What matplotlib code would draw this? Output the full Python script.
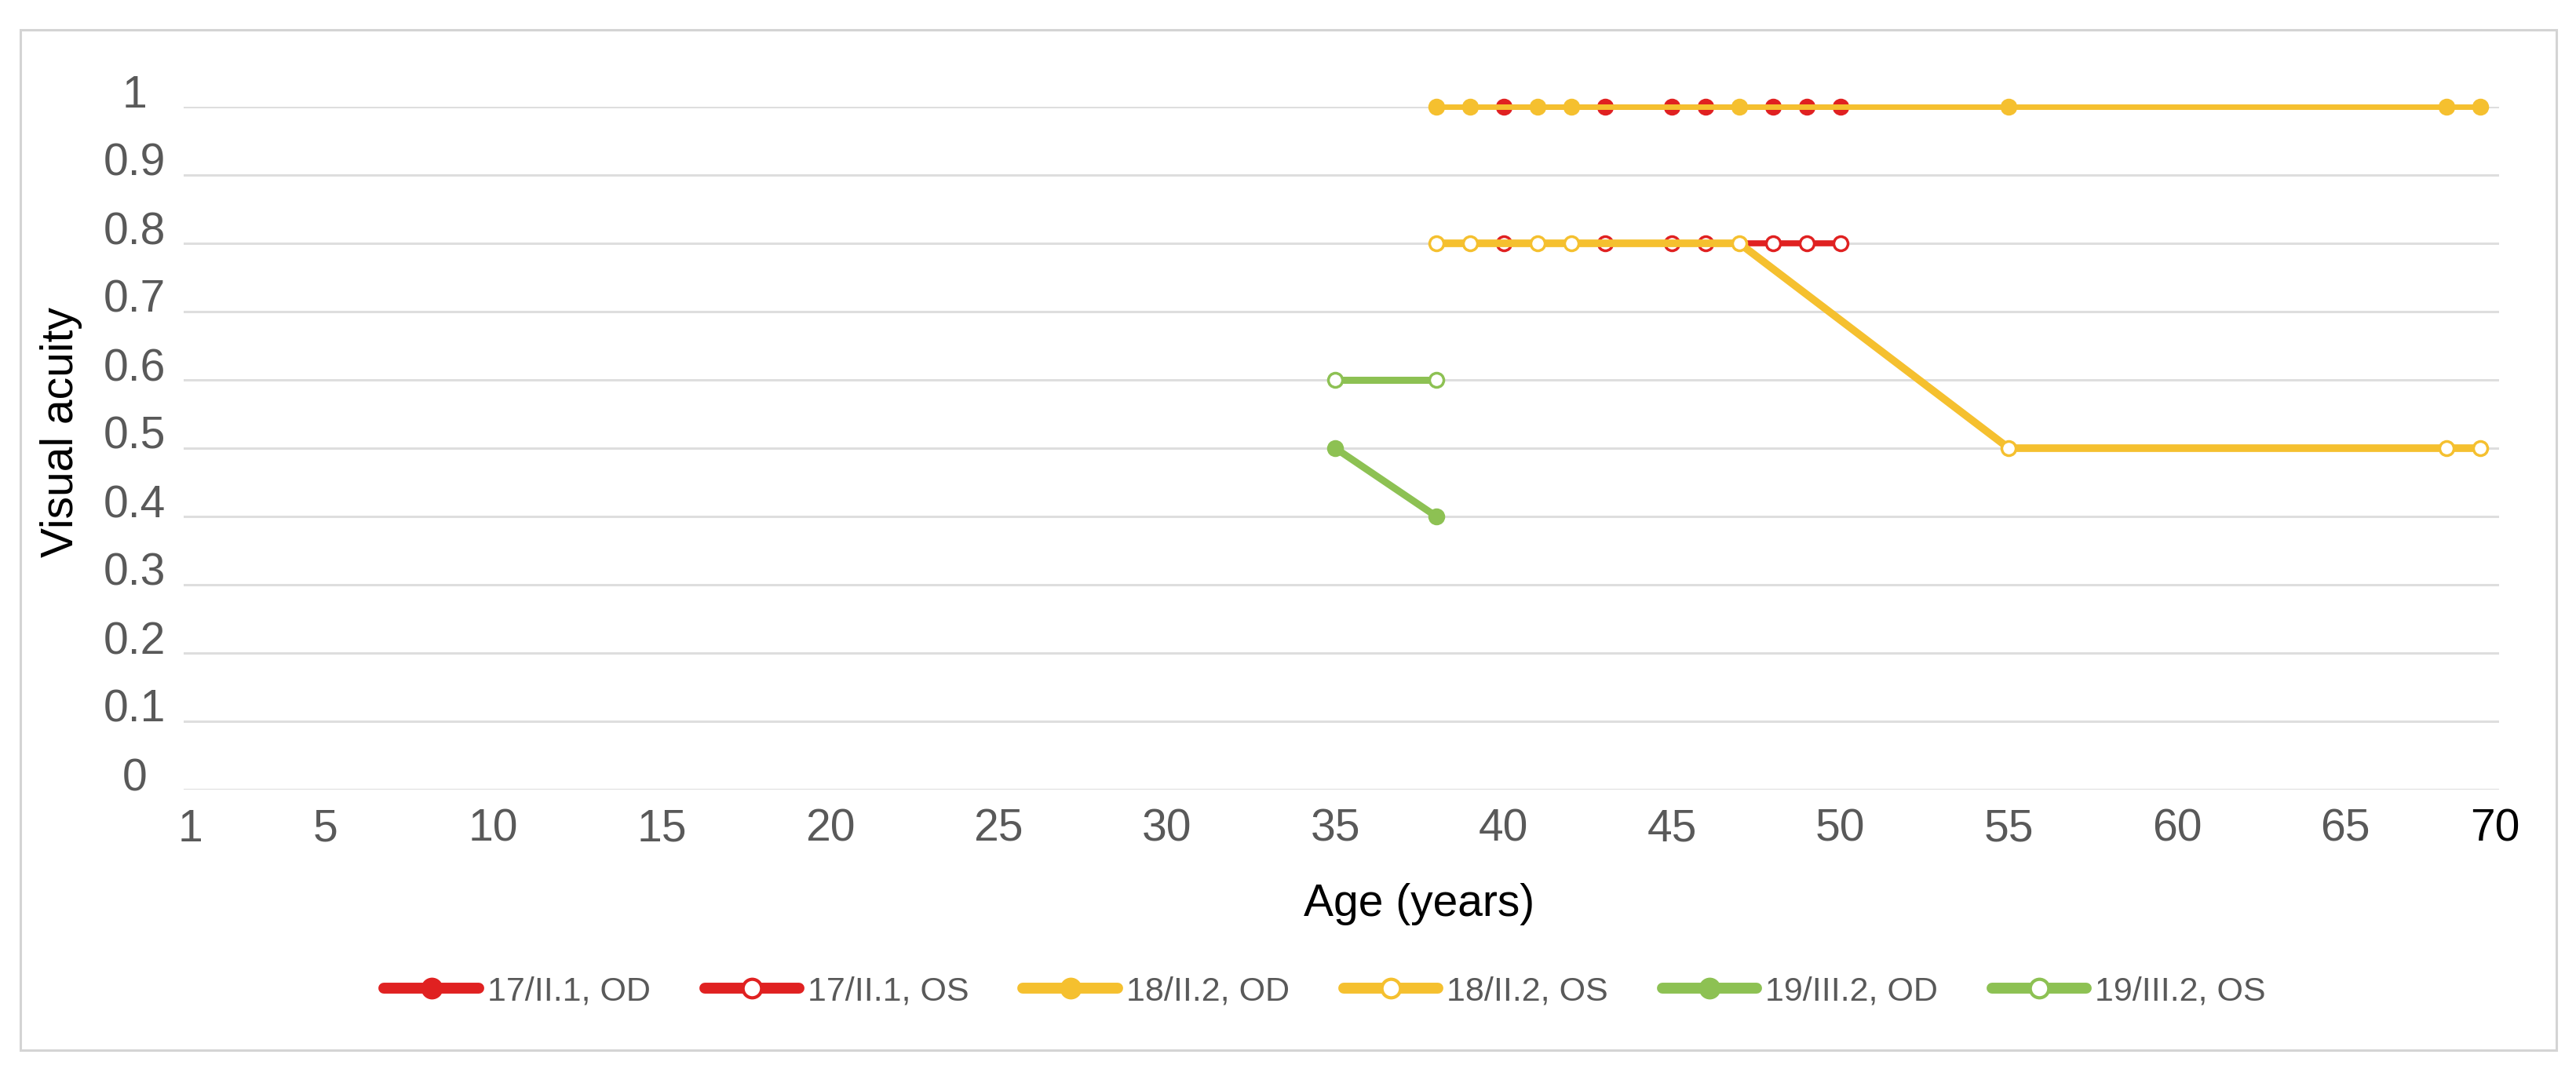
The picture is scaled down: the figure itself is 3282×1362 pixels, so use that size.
import numpy as np
import matplotlib
matplotlib.use("Agg")
import matplotlib.pyplot as plt
from matplotlib.lines import Line2D
from matplotlib.patches import Rectangle
from matplotlib.transforms import ScaledTranslation

plt.rcParams['font.family'] = ['Liberation Sans', 'DejaVu Sans']

# data
red_od_age = [40, 43, 45, 46, 48, 49, 50]
red_od_va = [1, 1, 1, 1, 1, 1, 1]
red_os_age = [40, 43, 45, 46, 48, 49, 50]
red_os_va = [0.8, 0.8, 0.8, 0.8, 0.8, 0.8, 0.8]
yel_od_age = [38, 39, 41, 42, 47, 55, 68, 69]
yel_od_va = [1, 1, 1, 1, 1, 1, 1, 1]
yel_os_age = [38, 39, 41, 42, 47, 55, 68, 69]
yel_os_va = [0.8, 0.8, 0.8, 0.8, 0.8, 0.5, 0.5, 0.5]
grn_od_age = [35, 38]
grn_od_va = [0.5, 0.4]
grn_os_age = [35, 38]
grn_os_va = [0.6, 0.6]

series_labels = ["17/II.1, OD", "17/II.1, OS", "18/II.2, OD",
                 "18/II.2, OS", "19/III.2, OD", "19/III.2, OS"]
xtick_vals = [1, 5, 10, 15, 20, 25, 30, 35, 40, 45, 50, 55, 60, 65]
xtick_labels = [str(v) for v in xtick_vals]
ytick_vals = [0, 0.1, 0.2, 0.3, 0.4, 0.5, 0.6, 0.7, 0.8, 0.9, 1]
ytick_labels = ["0", "0.1", "0.2", "0.3", "0.4", "0.5", "0.6", "0.7", "0.8", "0.9", "1"]

RED = "#E02121"
YEL = "#F5C02F"
GRN = "#8DC153"
GRAY = "#595959"

W, H = 3282, 1362
fig = plt.figure(figsize=(W / 100, H / 100), dpi=100)
ax = fig.add_axes([234 / W, 1 - 1006 / H, 2950 / W, 870 / H])

# outer frame
fig.patches.append(Rectangle((26 / W, 1 - 1338 / H), (3257 - 26) / W, (1338 - 38) / H,
                             transform=fig.transFigure, fill=False,
                             edgecolor="#D4D4D4", lw=2.2))

series = [
    (red_od_age, red_od_va, RED, True, 5),
    (red_os_age, red_os_va, RED, False, 5.5),
    (yel_od_age, yel_od_va, YEL, True, 5),
    (yel_os_age, yel_os_va, YEL, False, 7),
    (grn_od_age, grn_od_va, GRN, True, 6.5),
    (grn_os_age, grn_os_va, GRN, False, 6.5),
]

handles = []
for (x, y, col, filled, lw), lab in zip(series, series_labels):
    face = col if filled else "white"
    ax.plot(x, y, color=col, lw=lw, marker="o", markersize=13,
            markerfacecolor=face, markeredgecolor=col, markeredgewidth=2.5,
            solid_capstyle="round", clip_on=False)
    handles.append(Line2D([], [], color=col, lw=10, marker="o", markersize=17,
                          markerfacecolor=face, markeredgecolor=col,
                          markeredgewidth=3, solid_capstyle="round"))

ax.set_xlim(0.8, 69.56)
ax.set_ylim(0, 1)
ax.set_xticks(xtick_vals + [69.45])
ax.set_xticklabels(xtick_labels + ["70"])
ax.set_yticks(ytick_vals)
ax.set_yticklabels(ytick_labels)
ax.tick_params(axis="both", length=0, colors=GRAY, labelsize=41)
ax.tick_params(axis="x", pad=17)
ax.tick_params(axis="y", pad=45)
ax.get_xticklabels()[-1].set_color("black")
for lbl in ax.get_yticklabels():
    lbl.set_horizontalalignment("center")
    lbl.set_verticalalignment("center")
    lbl.set_transform(lbl.get_transform() + ScaledTranslation(0, 0.14, fig.dpi_scale_trans))

ax.yaxis.grid(True, color="#DEDEDE", lw=2.2)
ax.set_axisbelow(True)
for s in ax.spines.values():
    s.set_visible(False)

ax.set_xlabel("Age (years)", fontsize=41, color="black")
ax.xaxis.set_label_coords((1808 - 234) / 2950, (1006 - 1125) / 870)
ax.set_ylabel("Visual acuity", fontsize=41, color="black", va="center")
ax.yaxis.set_label_coords((78 - 234) / 2950, (1006 - 551) / 870)

fig.legend(handles, series_labels, loc="center",
           bbox_to_anchor=(1688 / W, 1 - 1263 / H), ncol=6, frameon=False,
           fontsize=31, labelcolor=GRAY, handlelength=2.8, handletextpad=0.25,
           columnspacing=1.6)

fig.savefig("out.png", dpi=100, facecolor="white")
